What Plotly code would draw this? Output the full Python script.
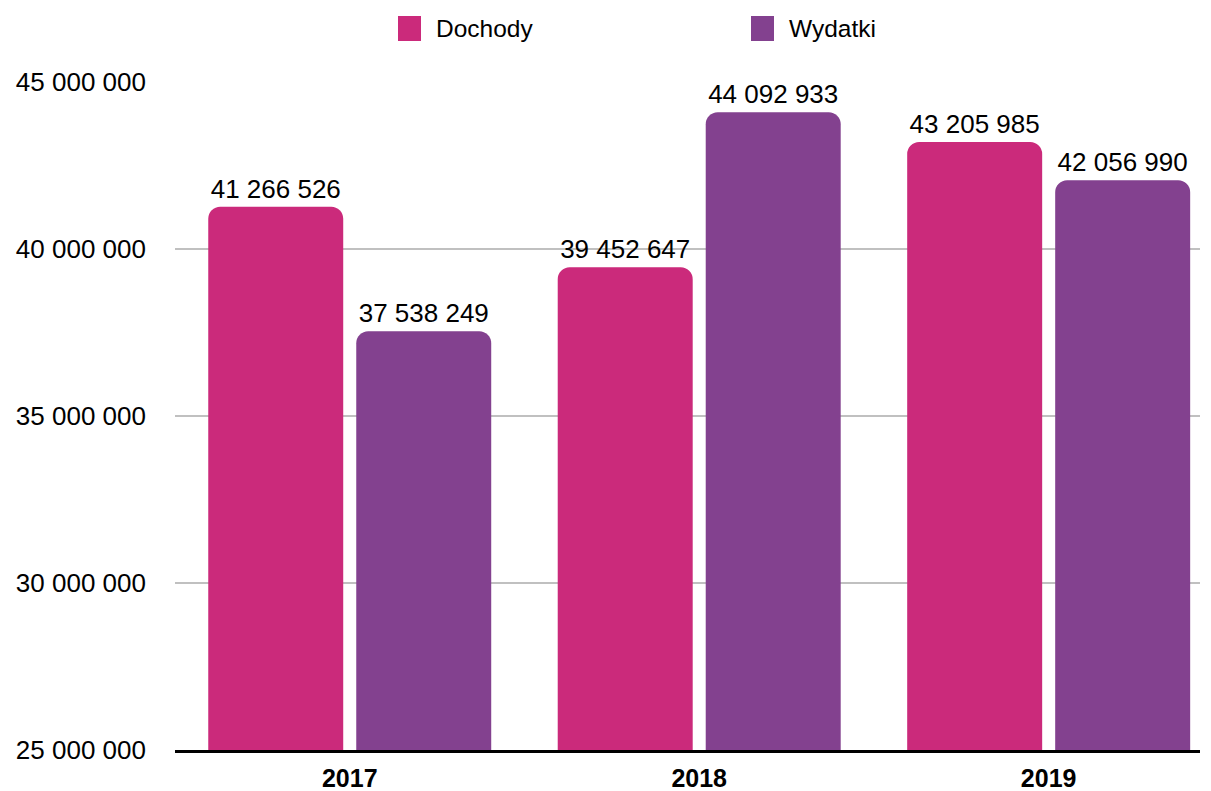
import plotly.graph_objects as go

years = ["2017", "2018", "2019"]
series_names = ["Dochody", "Wydatki"]
dochody = [41266526, 39452647, 43205985]
wydatki = [37538249, 44092933, 42056990]
y_ticks = [25000000, 30000000, 35000000, 40000000, 45000000]

colors = ["#CB2A7B", "#83418F"]
FONT = "Liberation Sans, Arial, Helvetica, sans-serif"

W, H = 1211, 791
ML, MR, MT, MB = 175, 11, 82, 41
PW, PH = W - ML - MR, H - MT - MB

fig = go.Figure()
for name, vals, col in zip(series_names, [dochody, wydatki], colors):
    fig.add_trace(go.Bar(
        x=years, y=vals, name=name,
        marker=dict(color=col, line=dict(width=0), cornerradius=12),
        texttemplate="%{y:,}", textposition="outside",
        textfont=dict(size=26, color="#000000", family=FONT),
        cliponaxis=False, showlegend=False,
    ))

# legend built from series names/colors
legend_px = [398, 751]
shapes, annotations = [], []
for name, col, px in zip(series_names, colors, legend_px):
    cx = (px + 11.5 - ML) / PW
    cy = (H - MB - 28.5) / PH
    shapes.append(dict(type="rect", xref="paper", yref="paper",
                       xsizemode="pixel", ysizemode="pixel",
                       xanchor=cx, yanchor=cy, x0=-11.5, x1=11.5, y0=-12.5, y1=12.5,
                       fillcolor=col, line=dict(width=0)))
    annotations.append(dict(xref="paper", yref="paper",
                            x=(px + 36 - ML) / PW, y=cy, xanchor="left", yanchor="middle",
                            text=name, showarrow=False,
                            font=dict(size=24.5, color="#000000", family=FONT)))

fig.update_layout(
    width=W, height=H,
    margin=dict(l=ML, r=MR, t=MT, b=MB, pad=0, autoexpand=False),
    paper_bgcolor="white", plot_bgcolor="white",
    barmode="group", bargap=0.153, bargroupgap=0.088,
    separators=", ",
    font=dict(family=FONT, size=26, color="#000000"),
    shapes=shapes, annotations=annotations,
    showlegend=False,
    xaxis=dict(type="category", range=[-0.5, 2.433], showgrid=False,
               showline=True, linecolor="#000000", linewidth=2.5,
               zeroline=False, ticks="", automargin=False,
               ticklabelstandoff=4,
               tickfont=dict(size=25, family=FONT, color="#000000", weight="bold")),
    yaxis=dict(range=[25000000, 45000000], tickvals=y_ticks, tickformat=",d",
               showgrid=True, gridcolor="#C0C0C0", gridwidth=1.5,
               zeroline=False, showline=False, ticks="", automargin=False,
               ticklabelstandoff=28,
               tickfont=dict(size=26, family=FONT, color="#000000")),
)

fig.write_html("out.html", config={"displayModeBar": False},
               post_script="document.body.style.margin='0';document.body.style.overflow='hidden';")
